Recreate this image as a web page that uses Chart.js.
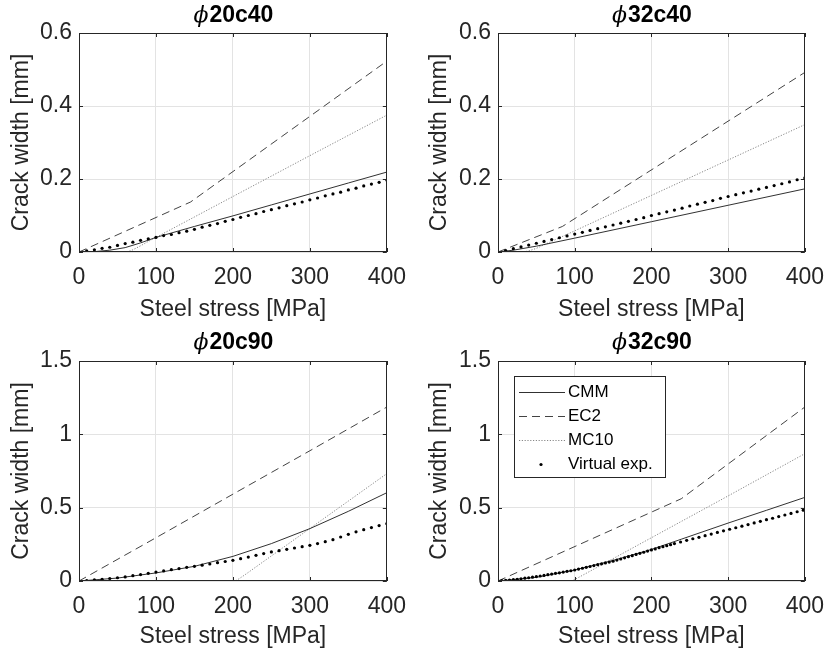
<!DOCTYPE html>
<html>
<head>
<meta charset="utf-8">
<script src="https://cdn.jsdelivr.net/npm/chart.js@4.4.0/dist/chart.umd.min.js"></script>
<style>
body{margin:0;background:#fff;}
#wrap{position:relative;width:836px;height:654px;}
.cell{position:absolute;width:418px;height:327px;}
.cell canvas{display:block;}
</style>
</head>
<body>
<div id="wrap">
  <div class="cell" style="left:0;top:0"><canvas id="c1" width="418" height="327"></canvas></div>
  <div class="cell" style="left:418px;top:0"><canvas id="c2" width="418" height="327"></canvas></div>
  <div class="cell" style="left:0;top:327px"><canvas id="c3" width="418" height="327"></canvas></div>
  <div class="cell" style="left:418px;top:327px"><canvas id="c4" width="418" height="327"></canvas></div>
</div>
<script>
// titles, series names, ticks
const panelTitles = ['\u03D520c40', '\u03D532c40', '\u03D520c90', '\u03D532c90'];
const seriesNames = ['CMM', 'EC2', 'MC10', 'Virtual exp.'];
const xTicksMax = 400;
const yMaxTop = 0.6, yStepTop = 0.2;
const yMaxBottom = 1.5, yStepBottom = 0.5;

// virtual experiment stress steps (MPa)
const stressExp = [0,10,20,30,40,50,60,70,80,90,100,110,120,130,140,150,160,170,180,190,200,
  210,220,230,240,250,260,270,280,290,300,310,320,330,340,350,360,370,380,390,400];

// phi20c40
const s20c40Cmm = [0,20,40,60,80,100,150,200,250,300,350,400];
const w20c40Cmm = [0,0.001,0.005,0.012,0.025,0.04,0.07,0.099,0.129,0.159,0.189,0.219];
const s20c40Ec2 = [0,145,400];
const w20c40Ec2 = [0,0.137,0.523];
const s20c40Mc10 = [0,60,65,70,80,90,100,200,300,400];
const w20c40Mc10 = [0,0,0.002,0.006,0.017,0.029,0.04,0.152,0.264,0.375];
const w20c40Exp = [0,0.003,0.006,0.01,0.013,0.018,0.023,0.027,0.032,0.036,0.040,0.045,0.048,0.053,0.057,
  0.062,0.068,0.073,0.078,0.084,0.089,0.095,0.1,0.105,0.111,0.116,0.121,0.127,0.132,0.137,0.143,
  0.148,0.154,0.159,0.164,0.170,0.175,0.181,0.186,0.191,0.197];

// phi32c40
const s32c40Cmm = [0,20,50,100,200,300,400];
const w32c40Cmm = [0,0.005,0.016,0.038,0.083,0.128,0.173];
const s32c40Ec2 = [0,84,400];
const w32c40Ec2 = [0,0.07,0.492];
const s32c40Mc10 = [0,33,40,50,100,200,300,400];
const w32c40Mc10 = [0,0,0.003,0.01,0.058,0.155,0.252,0.349];
const w32c40Exp = [0,0.004,0.009,0.014,0.019,0.024,0.029,0.034,0.039,0.044,0.049,0.054,0.059,0.064,0.069,
  0.074,0.079,0.084,0.089,0.094,0.1,0.105,0.11,0.115,0.12,0.126,0.131,0.136,0.141,0.147,0.152,
  0.157,0.162,0.167,0.172,0.177,0.182,0.187,0.192,0.198,0.203];

// phi20c90
const s20c90Cmm = [0,50,100,150,200,250,300,350,400];
const w20c90Cmm = [0,0.02,0.055,0.1,0.168,0.255,0.357,0.475,0.602];
const s20c90Ec2 = [0,100,200,300,400];
const w20c90Ec2 = [0,0.295,0.592,0.888,1.186];
const s20c90Mc10 = [0,200,205,215,300,400];
const w20c90Mc10 = [0,0,0.005,0.04,0.358,0.732];
const w20c90Exp = [0,0.003,0.007,0.012,0.017,0.022,0.028,0.036,0.044,0.052,0.061,0.069,0.077,0.085,0.093,
  0.1,0.108,0.116,0.125,0.133,0.141,0.152,0.163,0.175,0.187,0.198,0.207,0.216,0.225,0.234,0.243,
  0.255,0.268,0.282,0.3,0.318,0.335,0.35,0.364,0.378,0.391];

// phi32c90
const s32c90Cmm = [0,50,100,150,200,239,300,350,400];
const w32c90Cmm = [0,0.025,0.075,0.14,0.215,0.285,0.395,0.482,0.57];
const s32c90Ec2 = [0,239,400];
const w32c90Ec2 = [0,0.561,1.186];
const s32c90Mc10 = [0,93,98,105,200,300,400];
const w32c90Mc10 = [0,0,0.005,0.024,0.295,0.58,0.868];
const s32c90Exp = [0,5,10,15,20,25,30,35,40,45,50,55,60,65,70,75,80,85,90,95,100,105,110,115,120,
  125,130,135,140,145,150,155,160,165,170,175,180,185,190,195,200,205,210,215,220,225,230,
  238,246,254,262,270,278,286,294,302,310,318,326,334,342,350,358,366,374,382,390,398];
const w32c90Exp = [0,0.002,0.004,0.006,0.009,0.012,0.015,0.019,0.022,0.026,0.030,0.034,0.038,0.043,0.047,
  0.052,0.056,0.061,0.066,0.070,0.075,0.081,0.087,0.093,0.099,0.105,0.111,0.117,0.123,0.129,0.135,
  0.143,0.150,0.158,0.166,0.173,0.181,0.189,0.196,0.204,0.212,0.219,0.227,0.234,0.241,0.248,0.255,
  0.266,0.277,0.288,0.298,0.309,0.320,0.331,0.342,0.353,0.363,0.374,0.385,0.396,0.407,0.418,0.428,
  0.439,0.450,0.461,0.472,0.483];

var TXT = '#262626';
var FONT = '"Liberation Sans", Arial, sans-serif';

function pts(xs, ys){
  return xs.map(function(x, i){ return {x: x, y: ys[i]}; });
}

// axes box + inward tick marks (MATLAB look)
var framePlugin = {
  id: 'frame',
  afterDraw: function(chart){
    var a = chart.chartArea, ctx = chart.ctx;
    var xs = chart.scales.x, ys = chart.scales.y;
    ctx.save();
    ctx.strokeStyle = TXT;
    ctx.lineWidth = 1;
    ctx.beginPath();
    xs.ticks.forEach(function(t){
      var px = Math.round(xs.getPixelForValue(t.value)) + 0.5;
      ctx.moveTo(px, a.bottom); ctx.lineTo(px, a.bottom - 4);
      ctx.moveTo(px, a.top); ctx.lineTo(px, a.top + 4);
    });
    ys.ticks.forEach(function(t){
      var py = Math.round(ys.getPixelForValue(t.value)) + 0.5;
      ctx.moveTo(a.left, py); ctx.lineTo(a.left + 4, py);
      ctx.moveTo(a.right, py); ctx.lineTo(a.right - 4, py);
    });
    ctx.stroke();
    ctx.strokeRect(Math.round(a.left) + 0.5, Math.round(a.top) + 0.5,
      Math.round(a.right - a.left) - 1, Math.round(a.bottom - a.top) - 1);
    ctx.restore();
  }
};

// title: italic phi + bold rest
var phiTitlePlugin = {
  id: 'phiTitle',
  afterDraw: function(chart, args, o){
    if(!o.text) return;
    var ctx = chart.ctx, a = chart.chartArea;
    var phi = o.text.charAt(0), rest = o.text.slice(1);
    var f1 = 'italic 22px "DejaVu Serif"', f2 = 'bold 23px ' + FONT;
    ctx.save();
    ctx.fillStyle = '#000';
    ctx.textBaseline = 'alphabetic';
    ctx.font = f1; var w1 = ctx.measureText(phi).width;
    ctx.font = f2; var w2 = ctx.measureText(rest).width;
    var x = (a.left + a.right) / 2 - (w1 + w2) / 2;
    ctx.font = f1; ctx.fillText(phi, x, o.y);
    ctx.font = f2; ctx.fillText(rest, x + w1 + 1, o.y);
    ctx.restore();
  }
};

// legend box inside the last panel
var boxLegendPlugin = {
  id: 'boxLegend',
  afterDraw: function(chart, args, o){
    if(!o.show) return;
    var ctx = chart.ctx;
    ctx.save();
    ctx.fillStyle = '#fff';
    ctx.fillRect(o.x, o.y, o.w, o.h);
    ctx.strokeStyle = TXT;
    ctx.lineWidth = 1;
    ctx.strokeRect(o.x + 0.5, o.y + 0.5, o.w, o.h);
    ctx.font = '17px ' + FONT;
    ctx.textBaseline = 'middle';
    chart.data.datasets.forEach(function(ds, i){
      var yy = o.y + 16.5 + i * 24;
      if(ds.showLine === false){
        ctx.fillStyle = '#000';
        ctx.beginPath();
        ctx.arc(o.x + 27, yy, 1.6, 0, Math.PI * 2);
        ctx.fill();
      } else {
        ctx.strokeStyle = ds.borderColor;
        ctx.lineWidth = ds.borderWidth;
        ctx.setLineDash(ds.borderDash || []);
        ctx.beginPath();
        ctx.moveTo(o.x + 5, yy); ctx.lineTo(o.x + 51, yy);
        ctx.stroke();
        ctx.setLineDash([]);
      }
      ctx.fillStyle = '#000';
      ctx.fillText(ds.label, o.x + 54, yy);
    });
    ctx.restore();
  }
};

// "1" instead of "1.0"
function tickFmt(v){
  return String(Number(v.toFixed(2)));
}

function makeChart(id, p){
  var ctx = document.getElementById(id).getContext('2d');
  return new Chart(ctx, {
    type: 'line',
    data: {
      datasets: [
        { label: seriesNames[0], data: pts(p.cmm[0], p.cmm[1]), borderColor: '#1a1a1a', borderWidth: 0.9,
          pointRadius: 0, tension: 0, order: 1 },
        { label: seriesNames[1], data: pts(p.ec2[0], p.ec2[1]), borderColor: '#2e2e2e', borderWidth: 0.9,
          borderDash: [8, 5], pointRadius: 0, tension: 0, order: 2 },
        { label: seriesNames[2], data: pts(p.mc10[0], p.mc10[1]), borderColor: '#7a7a7a', borderWidth: 0.9,
          borderDash: [1.2, 1.6], pointRadius: 0, tension: 0, order: 3 },
        { label: seriesNames[3], data: pts(p.exp[0], p.exp[1]), showLine: false, pointRadius: 1.6,
          pointBorderWidth: 0, pointBackgroundColor: '#000', borderColor: '#000', order: 0 }
      ]
    },
    options: {
      responsive: false,
      animation: false,
      devicePixelRatio: 1,
      layout: { padding: { top: p.area.top, right: 418 - p.area.right, bottom: 0, left: 0 } },
      plugins: {
        legend: { display: false },
        tooltip: { enabled: false },
        phiTitle: { text: p.title, y: 22 },
        boxLegend: p.legend || { show: false }
      },
      scales: {
        x: {
          type: 'linear', min: 0, max: xTicksMax,
          ticks: { stepSize: 100, color: TXT, padding: 12, font: { family: FONT, size: 23 }, maxRotation: 0,
            callback: tickFmt },
          grid: { color: '#e3e3e3', drawTicks: false },
          border: { display: false },
          title: { display: true, text: 'Steel stress [MPa]', color: TXT,
            font: { family: FONT, size: 23 }, padding: { top: 0, bottom: 4 } },
          afterFit: function(s){ s.height = 327 - p.area.bottom; }
        },
        y: {
          type: 'linear', min: 0, max: p.yMax,
          ticks: { stepSize: p.yStep, color: TXT, padding: 7, font: { family: FONT, size: 23 },
            callback: tickFmt },
          grid: { color: '#e3e3e3', drawTicks: false },
          border: { display: false },
          title: { display: true, text: 'Crack width [mm]', color: TXT,
            font: { family: FONT, size: 23 }, padding: { top: 8, bottom: 0 } },
          afterFit: function(s){ s.width = p.area.left; }
        }
      }
    },
    plugins: [framePlugin, phiTitlePlugin, boxLegendPlugin]
  });
}

makeChart('c1', {
  title: panelTitles[0], yMax: yMaxTop, yStep: yStepTop,
  area: { left: 79, right: 395, top: 33, bottom: 252 },
  cmm: [s20c40Cmm, w20c40Cmm], ec2: [s20c40Ec2, w20c40Ec2],
  mc10: [s20c40Mc10, w20c40Mc10], exp: [stressExp, w20c40Exp]
});
makeChart('c2', {
  title: panelTitles[1], yMax: yMaxTop, yStep: yStepTop,
  area: { left: 80, right: 396, top: 33, bottom: 252 },
  cmm: [s32c40Cmm, w32c40Cmm], ec2: [s32c40Ec2, w32c40Ec2],
  mc10: [s32c40Mc10, w32c40Mc10], exp: [stressExp, w32c40Exp]
});
makeChart('c3', {
  title: panelTitles[2], yMax: yMaxBottom, yStep: yStepBottom,
  area: { left: 79, right: 395, top: 34, bottom: 254 },
  cmm: [s20c90Cmm, w20c90Cmm], ec2: [s20c90Ec2, w20c90Ec2],
  mc10: [s20c90Mc10, w20c90Mc10], exp: [stressExp, w20c90Exp]
});
makeChart('c4', {
  title: panelTitles[3], yMax: yMaxBottom, yStep: yStepBottom,
  area: { left: 80, right: 396, top: 34, bottom: 254 },
  cmm: [s32c90Cmm, w32c90Cmm], ec2: [s32c90Ec2, w32c90Ec2],
  mc10: [s32c90Mc10, w32c90Mc10], exp: [s32c90Exp, w32c90Exp],
  legend: { show: true, x: 96, y: 49, w: 151, h: 101 }
});
</script>
</body>
</html>
